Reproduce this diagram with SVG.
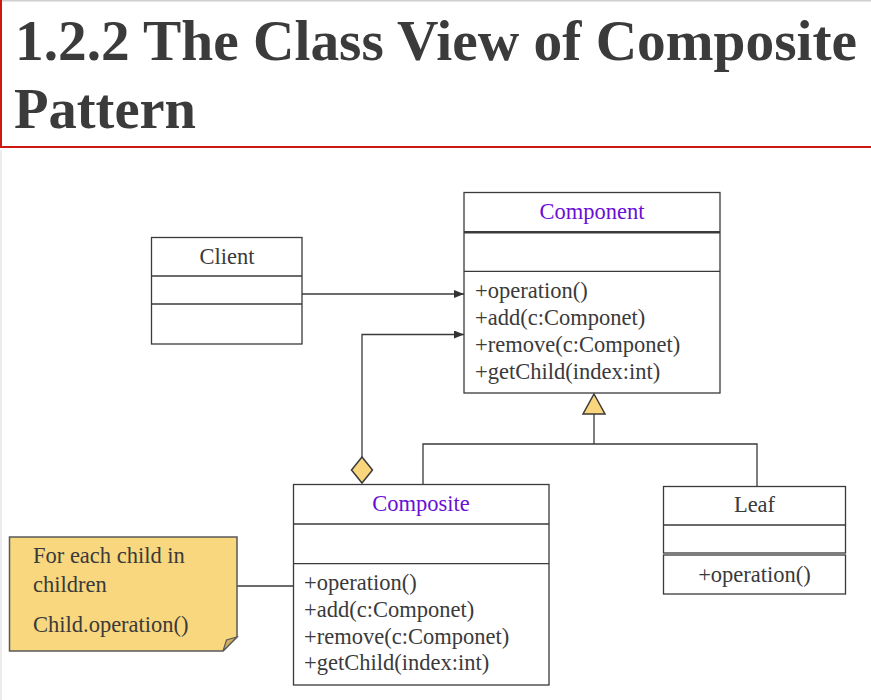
<svg xmlns="http://www.w3.org/2000/svg" width="871" height="700" viewBox="0 0 871 700">
  <style>
    .title { font-family: "Liberation Serif", "Times New Roman", serif; font-weight: bold; font-size: 58px; fill: #3b3b3b; }
    .txt { font-family: "Liberation Serif", "Times New Roman", serif; font-size: 22.5px; fill: #3a3a3a; }
    .name { font-family: "Liberation Serif", "Times New Roman", serif; font-size: 22.5px; fill: #6a0fd6; }
    .box { fill: #ffffff; stroke: #3a3a3a; stroke-width: 1.3; }
    .sep { stroke: #3a3a3a; stroke-width: 1.3; }
    .wire { fill: none; stroke: #3a3a3a; stroke-width: 1.3; }
    .gold { fill: #f9d67c; stroke: #3a3a3a; stroke-width: 1.5; }
  </style>
  <defs>
    <marker id="arrow" viewBox="0 0 10 8" refX="10" refY="4" markerWidth="10" markerHeight="8" markerUnits="userSpaceOnUse" orient="auto">
      <path d="M0,0 L10,4 L0,8 Z" fill="#333333"/>
    </marker>
  </defs>

  <!-- page frame -->
  <rect x="0" y="0" width="871" height="700" fill="#ffffff"/>
  <line x1="0" y1="0.8" x2="871" y2="0.8" stroke="#cfcfcf" stroke-width="1.5"/>
  <line x1="1" y1="0" x2="1" y2="148" stroke="#cc1a10" stroke-width="2"/>
  <line x1="0" y1="147" x2="871" y2="147" stroke="#cc1a10" stroke-width="2"/>
  <line x1="1" y1="150" x2="1" y2="700" stroke="#ececec" stroke-width="2"/>

  <!-- heading -->
  <g id="heading">
    <text class="title" x="15" y="60" textLength="842" lengthAdjust="spacingAndGlyphs">1.2.2 The Class View of Composite</text>
    <text class="title" x="14" y="128" textLength="182" lengthAdjust="spacingAndGlyphs">Pattern</text>
  </g>

  <!-- connectors -->
  <g id="connectors">
    <line class="wire" x1="302" y1="294" x2="464" y2="294" marker-end="url(#arrow)"/>
    <polyline class="wire" points="362,457 362,334.5 464,334.5" marker-end="url(#arrow)"/>
    <line class="wire" x1="594" y1="414" x2="594" y2="444"/>
    <polyline class="wire" points="423,484 423,444 757,444 757,486"/>
    <line class="wire" x1="237" y1="586" x2="293" y2="586"/>
    <polygon class="gold" points="594,394 605,414 583,414"/>
    <polygon class="gold" points="362,457 372.5,470 362,483 351.5,470"/>
  </g>

  <!-- Client class -->
  <g id="client">
    <rect class="box" x="151.5" y="237.5" width="150.5" height="106.5"/>
    <line class="sep" x1="151.5" y1="276" x2="302" y2="276"/>
    <line class="sep" x1="151.5" y1="304" x2="302" y2="304"/>
    <text class="txt" x="227" y="264" text-anchor="middle">Client</text>
  </g>

  <!-- Component class -->
  <g id="component">
    <rect class="box" x="464" y="192.5" width="256" height="200.5"/>
    <line x1="464" y1="232.3" x2="720" y2="232.3" stroke="#3a3a3a" stroke-width="2.4"/>
    <line class="sep" x1="464" y1="271.3" x2="720" y2="271.3"/>
    <text class="name" x="592" y="219" text-anchor="middle">Component</text>
    <text class="txt" x="475" y="298">+operation()</text>
    <text class="txt" x="475" y="325">+add(c:Componet)</text>
    <text class="txt" x="475" y="352">+remove(c:Componet)</text>
    <text class="txt" x="475" y="379">+getChild(index:int)</text>
  </g>

  <!-- Composite class -->
  <g id="composite">
    <rect class="box" x="293.5" y="484.5" width="255.5" height="200.5"/>
    <line class="sep" x1="293.5" y1="524" x2="549" y2="524"/>
    <line class="sep" x1="293.5" y1="563.7" x2="549" y2="563.7"/>
    <text class="name" x="421" y="511" text-anchor="middle">Composite</text>
    <text class="txt" x="304" y="590">+operation()</text>
    <text class="txt" x="304" y="617">+add(c:Componet)</text>
    <text class="txt" x="304" y="644">+remove(c:Componet)</text>
    <text class="txt" x="304" y="670">+getChild(index:int)</text>
  </g>

  <!-- Leaf class -->
  <g id="leaf">
    <rect class="box" x="663.5" y="486.5" width="182" height="66.5"/>
    <line class="sep" x1="663.5" y1="525" x2="845.5" y2="525"/>
    <rect class="box" x="663.5" y="555" width="182" height="39"/>
    <text class="txt" x="754.5" y="512" text-anchor="middle">Leaf</text>
    <text class="txt" x="754.5" y="582" text-anchor="middle">+operation()</text>
  </g>

  <!-- note attached to Composite -->
  <g id="note">
    <path d="M9.5,537 L237,537 L237,637 L223,651 L9.5,651 Z" fill="#f9d77e" stroke="#5a5a5a" stroke-width="1.5"/>
    <path d="M223,651 L226.5,640 L237,637 Z" fill="#cfae62" stroke="#5a5a5a" stroke-width="1.2"/>
    <text class="txt" x="33" y="563">For each child in</text>
    <text class="txt" x="33" y="592">children</text>
    <text class="txt" x="33" y="632">Child.operation()</text>
  </g>
</svg>
